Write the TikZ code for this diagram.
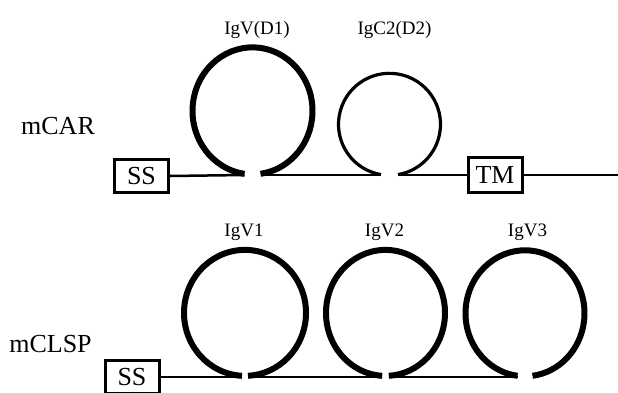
\documentclass[tikz,border=0pt]{standalone}
\usepackage{fontspec}
\setmainfont{Liberation Serif}
\begin{document}
\begin{tikzpicture}[x=1pt,y=1pt,
  base/.style={line width=2.5pt},
  domainbox/.style={draw,line width=3pt,minimum width=54pt,minimum height=33pt,inner sep=0pt,font=\fontsize{26}{28}\selectfont},
  domlabel/.style={anchor=base,inner sep=0pt,font=\fontsize{19}{22}\selectfont},
  rowlabel/.style={anchor=base,inner sep=0pt,font=\fontsize{26}{28}\selectfont},
  thickloop/.style={line width=6pt},
  thinloop/.style={line width=3.2pt}]
\useasboundingbox (0,0) rectangle (618,392);

% Domain loop sitting on the row base line \rowbase, open at the bottom:
% [style]{name}{cx}{x radius}{y radius}{half gap}{lift of the loop's lowest point}
\newcommand\omegaloop[7][]{%
  \coordinate (#2-l) at ({#3-#6},\rowbase);
  \coordinate (#2-r) at ({#3+#6},\rowbase);
  \draw[#1] ({#3-#6},{\rowbase+#7}) arc[start angle={270-asin(#6/#4)},end angle={-90+asin(#6/#4)},
                       x radius=#4,y radius=#5];
}

% ---- mCAR ----
\def\rowbase{217}
\node[rowlabel] (mcar) at (58,258) {mCAR};
\node[domainbox] (ss1) at (141.5,216) {SS};
\node[domainbox,minimum height=35pt] (tm) at (495,217) {TM};
\coordinate (end1) at (620,217);
\omegaloop[thickloop]{d1}{252.5}{60}{63.5}{8}{1.2}
\omegaloop[thinloop]{d2}{389.5}{51}{51}{8.5}{0.4}
\node[domlabel] (l-d1) at (257,358) {IgV(D1)};
\node[domlabel] (l-d2) at (394.5,358) {IgC2(D2)};
\draw[base] (ss1.east) -- (d1-l);
\draw[base] (d1-r) -- (d2-l);
\draw[base] (d2-r) -- (tm.west);
\draw[base] (tm.east) -- (end1);

% ---- mCLSP ----
\def\rowbase{15}
\node[rowlabel] (mclsp) at (50.5,40) {mCLSP};
\node[domainbox] (ss2) at (132,15) {SS};
\omegaloop[thickloop]{v1}{245}{61}{63}{3}{1.2}
\omegaloop[thickloop]{v2}{385.5}{59.5}{63}{3.3}{1.2}
\omegaloop[thickloop]{v3}{525}{59.5}{63}{7.5}{1.2}
\node[domlabel] (l-v1) at (244,156) {IgV1};
\node[domlabel] (l-v2) at (384.5,156) {IgV2};
\node[domlabel] (l-v3) at (527.5,156) {IgV3};
\draw[base] (ss2.east) -- (v1-l);
\draw[base] (v1-r) -- (v2-l);
\draw[base] (v2-r) -- (v3-l);
\end{tikzpicture}
\end{document}
